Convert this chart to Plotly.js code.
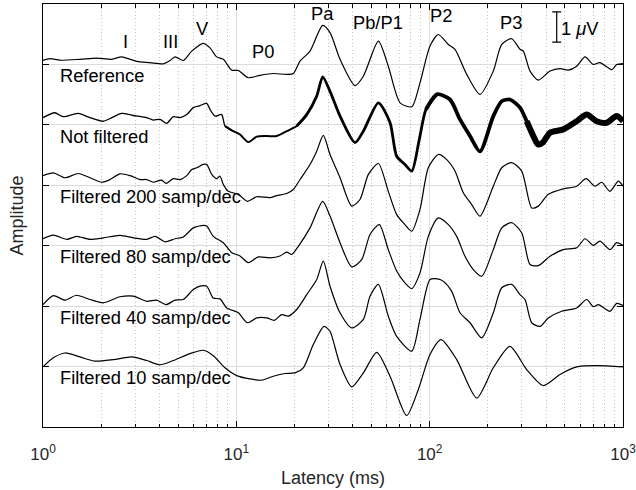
<!DOCTYPE html>
<html><head><meta charset="utf-8">
<script src="https://cdn.plot.ly/plotly-3.0.1.min.js"></script>
<style>html,body{margin:0;padding:0;background:#fff}</style>
</head><body><div id="chart" style="width:636px;height:490px"></div>
<script>
// ---- data (latency in ms, amplitude in microvolts) ----
const traceNames = ['Reference', 'Not filtered', 'Filtered 200 samp/dec', 'Filtered 80 samp/dec', 'Filtered 40 samp/dec', 'Filtered 10 samp/dec'];

const refLat = [1.00,1.087,1.224,1.554,1.896,2.266,2.554,3.053,3.577,4.192,4.538,4.818,5.318,5.877,6.749,7.31,7.915,8.563,9.465,10.24,11.53,13.26,15.53,18.22,19.71,21.35,24.05,27.98,30.52,34.38,41.1,45.4,54.3,61.1,70.3,80.8,89.1,100.4,110.9,124.9,135.2,155.5,182.1,213.3,235.9,265.7,293.3,305.1,330.4,364.8,419.3,472.3,521.4,576.0,636.3,702.3,760.3,874.1,927.8,1000];
const refAmp = [0.13,0.19,0.14,0.17,0.21,0.17,0.25,0.10,0.06,0.02,0.13,0.25,0.13,0.44,0.70,0.55,0.25,0.17,-0.19,-0.20,-0.44,-0.36,-0.30,-0.33,-0.30,0.11,0.44,1.29,1.05,0.17,-0.70,-0.39,0.77,-0.06,-1.27,-1.40,-0.61,0.61,0.99,0.66,0.50,-0.33,-0.99,-0.22,0.66,0.85,0.50,0.44,-0.22,-0.52,-0.22,-0.14,-0.19,-0.06,0.25,0.0,0.06,-0.17,0.0,0.03];

const nfLat = [1.00,1.15,1.27,1.52,1.75,2.05,2.27,2.55,2.93,3.44,3.72,4.03,4.36,4.72,5.11,5.54,5.99,6.49,7.03,7.31,7.76,8.40,8.74,9.65,10.45,11.53,12.75,14.36,16.18,18.22,20.52,23.12,26.05,27.98,30.52,34.38,41.1,45.4,54.3,62.4,67.5,74.5,80.8,88.4,95.7,109.1,127.4,143.5,161.7,182.1,213.4,235.9,260.3,293.3,317.6,343.8,363.5,384.3,419.3,491.2,576.0,649.0,731.2,823.8,927.8,1000];
const nfAmp = [0.24,0.40,0.27,0.38,0.24,0.12,0.24,0.38,0.31,0.24,0.16,0.18,0.05,0.27,0.24,0.34,0.57,0.64,0.71,0.51,0.29,0.34,-0.04,-0.21,-0.32,-0.57,-0.39,-0.37,-0.37,-0.21,-0.04,0.34,0.95,1.59,1.11,0.29,-0.59,-0.21,0.73,0.07,-1.04,-1.31,-1.53,-0.48,0.51,1.01,0.84,0.18,-0.37,-0.88,0.29,0.78,0.84,0.57,0.12,-0.37,-0.65,-0.59,-0.26,-0.15,0.12,0.34,0.12,0.07,0.29,0.12];

const f200Lat = [1.00,1.13,1.30,1.52,1.75,2.01,2.22,2.50,2.82,3.18,3.44,3.72,4.11,4.33,4.72,5.11,5.54,5.88,6.24,6.75,7.03,7.46,7.92,8.23,8.56,9.09,10.24,11.40,12.75,14.93,16.18,18.22,19.71,21.35,24.05,26.05,28.18,30.52,34.38,39.53,43.6,48.2,54.3,61.1,67.5,74.5,80.8,89.1,98.4,110.9,122.5,135.2,149.3,165.0,182.1,213.4,235.9,265.7,299.2,337.2,364.8,410.9,491.2,576.0,643.8,716.6,775.9,856.5,945.7,1000];
const f200Amp = [0.32,0.41,0.25,0.39,0.25,0.10,0.19,0.38,0.32,0.19,0.19,0.10,0.17,0.06,0.22,0.19,0.32,0.52,0.58,0.69,0.69,0.36,0.22,0.30,0.03,-0.20,-0.30,-0.53,-0.38,-0.41,-0.34,-0.27,-0.14,0.19,0.69,1.13,1.65,1.02,0.25,-0.69,-0.47,0.36,0.72,-0.20,-0.97,-1.30,-1.52,-0.80,0.58,1.02,0.85,0.47,-0.25,-0.64,-1.02,-0.03,0.58,0.75,0.47,-0.75,-0.69,-0.30,-0.12,-0.03,0.22,-0.03,0.10,-0.20,0.14,-0.03];

const f80Lat = [1.00,1.13,1.33,1.49,1.75,2.05,2.50,2.93,3.44,3.80,4.28,4.82,5.32,5.99,6.75,7.03,7.60,8.56,9.47,10.45,11.53,12.99,14.93,16.82,18.22,19.34,20.92,24.05,27.98,30.52,34.38,39.53,44.5,49.14,54.9,61.1,67.5,74.5,80.8,89.1,98.4,110.9,124.9,138.0,152.3,168.2,185.9,213.4,235.9,265.7,299.2,330.4,364.8,419.3,491.2,576.0,636.3,702.3,760.3,856.5,927.8,1000];
const f80Amp = [0.23,0.35,0.21,0.31,0.21,0.26,0.34,0.26,0.21,0.31,0.13,0.23,0.29,0.59,0.67,0.65,0.31,0.10,-0.23,-0.34,-0.56,-0.37,-0.40,-0.34,-0.21,-0.29,-0.02,0.59,1.47,0.98,0.10,-0.70,-0.46,0.37,0.70,-0.13,-0.84,-1.23,-1.42,-0.90,0.31,0.92,0.70,0.31,-0.35,-0.79,-1.01,-0.13,0.59,0.76,0.43,-0.62,-0.66,-0.35,-0.13,-0.07,0.23,0.01,0.15,-0.13,0.10,0.01];

const f40Lat = [1.00,1.13,1.30,1.49,1.75,2.05,2.50,2.93,3.44,3.87,4.33,4.82,5.32,5.99,6.49,7.03,7.60,8.23,8.92,10.24,11.40,12.75,14.36,15.72,17.17,18.57,20.52,23.12,26.05,28.18,30.52,34.38,39.53,45.39,49.14,54.27,61.1,67.5,80.8,89.1,100.4,110.0,117.7,130.0,143.5,161.7,185.9,213.4,235.9,265.7,293.3,311.3,337.2,372.2,410.9,481.8,576.0,649.0,702.3,745.3,856.5,927.8,1000];
const f40Amp = [0.05,0.35,0.20,0.36,0.22,0.11,0.31,0.33,0.16,0.20,0.05,0.20,0.22,0.55,0.66,0.66,0.27,0.24,-0.06,-0.22,-0.55,-0.39,-0.39,-0.47,-0.28,-0.33,-0.11,0.38,0.88,1.49,0.66,-0.22,-0.72,-0.44,0.33,0.72,-0.33,-1.00,-1.49,-0.44,0.88,0.90,0.82,0.49,-0.22,-0.55,-1.05,-0.22,0.61,0.72,0.38,0.22,-0.55,-0.67,-0.39,-0.17,-0.06,0.22,-0.02,0.05,-0.17,0.09,0.02];

const f10Lat = [1.00,1.13,1.30,1.55,1.86,2.31,2.88,3.44,4.03,4.72,5.76,6.75,7.60,8.74,10.04,11.77,13.53,15.53,17.85,20.11,22.20,25.01,28.41,30.52,31.75,34.38,39.53,45.39,53.23,62.36,76.06,87.35,100.4,114.5,138.0,175.1,213.4,260.3,317.6,387.0,472.3,576.0,731.2,1000];
const f10Amp = [-0.01,0.29,0.45,0.32,0.18,0.23,0.32,0.20,0.06,0.20,0.43,0.54,0.36,-0.04,-0.30,-0.41,-0.45,-0.32,-0.23,-0.21,-0.04,0.73,1.33,1.17,0.84,0.07,-0.67,-0.21,0.47,-0.32,-1.62,-0.76,0.40,0.89,0.23,-1.04,-0.04,0.67,-0.10,-0.63,-0.26,-0.01,0.03,-0.01];

const peakNames = ['I', 'III', 'V', 'P0', 'Pa', 'Pb/P1', 'P2', 'P3'];
const peakLat = [2.68, 4.54, 6.68, 13.7, 28.0, 54.1, 114.6, 263.6];
const peakHeight = [10.77, 10.77, 11.19, 10.44, 11.69, 11.40, 11.62, 11.38];

const scaleBarLat = 454;      // ms
const scaleBarValue = 1;      // microvolt
const scaleBarCenter = 11.24;

const xTickVals = [1, 10, 100, 1000];
const xTickText = ['10<sup>0</sup>', '10<sup>1</sup>', '10<sup>2</sup>', '10<sup>3</sup>'];

// ---- layout constants ----
const traceOffset = [10, 8, 6, 4, 2, 0];  // vertical stacking (microvolts)
const labelDrop = 0.37;
const labelLat = 1.196;
const FONT = 'Liberation Sans, Arial, sans-serif';

const series = [
  [refLat, refAmp], [nfLat, nfAmp], [f200Lat, f200Amp],
  [f80Lat, f80Amp], [f40Lat, f40Amp], [f10Lat, f10Amp]
];

const traces = [];
series.forEach(([lat, amp], k) => {
  const y = amp.map(v => v + traceOffset[k]);
  if (k === 1) {
    // the unfiltered recording: its noise band widens with latency
    const breaks = [1, 9, 22, 100, 330, 1001];
    const widths = [1.3, 2, 2.8, 3.8, 6];
    for (let s = 0; s < widths.length; s++) {
      const xs = [], ys = [];
      const inS = t => t >= breaks[s] && t < breaks[s + 1];
      for (let i = 0; i < lat.length; i++) {
        if (inS(lat[i]) || (i + 1 < lat.length && inS(lat[i + 1])) || (i > 0 && inS(lat[i - 1]))) {
          xs.push(lat[i]); ys.push(y[i]);
        }
      }
      traces.push({x: xs, y: ys, type: 'scatter', mode: 'lines',
        line: {color: '#000', width: widths[s], shape: 'spline', smoothing: 0.7},
        hoverinfo: 'skip', showlegend: false});
    }
  } else {
    traces.push({x: lat, y: y, type: 'scatter', mode: 'lines',
      line: {color: '#000', width: 1.2, shape: 'spline', smoothing: 0.7},
      hoverinfo: 'skip', showlegend: false});
  }
});

// scale bar (1 microvolt) drawn as an error bar
traces.push({x: [scaleBarLat], y: [scaleBarCenter], type: 'scatter', mode: 'markers',
  marker: {size: 1, color: 'rgba(0,0,0,0)'},
  error_y: {type: 'data', array: [scaleBarValue / 2], symmetric: true, color: '#000', thickness: 1.2, width: 4.5},
  hoverinfo: 'skip', showlegend: false});

const TXT = {family: FONT, size: 18.3, color: '#000'};
const annotations = [];
traceNames.forEach((name, k) => {
  annotations.push({x: Math.log10(labelLat), y: traceOffset[k] - labelDrop, text: name,
    xanchor: 'left', yanchor: 'middle', showarrow: false, font: TXT});
});
peakNames.forEach((name, i) => {
  annotations.push({x: Math.log10(peakLat[i]), y: peakHeight[i], text: name,
    xanchor: 'center', yanchor: 'middle', showarrow: false, font: TXT});
});
annotations.push({x: Math.log10(scaleBarLat * 1.03), y: scaleBarCenter - 0.05, text: '1 <i>μ</i>V',
  xanchor: 'left', yanchor: 'middle', showarrow: false, font: TXT});

const minorVals = [];
[1, 10, 100].forEach(d => { for (let m = 2; m <= 9; m++) minorVals.push(m * d); });

const layout = {
  width: 636, height: 490,
  margin: {l: 43, r: 13, t: 4, b: 63},
  paper_bgcolor: '#fff', plot_bgcolor: '#fff',
  font: {family: FONT, color: '#000'},
  showlegend: false,
  xaxis: {
    type: 'log', range: [0, 3],
    tickmode: 'array', tickvals: xTickVals, ticktext: xTickText,
    ticks: 'inside', ticklen: 6, tickcolor: '#000', tickwidth: 1,
    showline: true, linecolor: '#000', linewidth: 1, mirror: 'ticks',
    showgrid: true, gridcolor: '#dcdcdc', gridwidth: 1,
    tickfont: {family: FONT, size: 17, color: '#262626'},
    ticklabelstandoff: 12, ticklabeloverflow: 'allow',
    minor: {tickmode: 'array', tickvals: minorVals, ticks: 'inside', ticklen: 3.5, tickcolor: '#000',
            showgrid: true, gridcolor: '#c4c4c4', griddash: '1px,2.5px', gridwidth: 1},
    title: {text: 'Latency (ms)', font: {family: FONT, size: 18, color: '#262626'}, standoff: 7},
    zeroline: false
  },
  yaxis: {
    range: [-2, 12], tickmode: 'linear', tick0: -2, dtick: 2,
    showticklabels: false,
    ticks: 'inside', ticklen: 6, tickcolor: '#000',
    showline: true, linecolor: '#000', linewidth: 1, mirror: 'ticks',
    showgrid: true, gridcolor: '#dcdcdc', gridwidth: 1, zeroline: false,
    title: {text: 'Amplitude', font: {family: FONT, size: 18, color: '#262626'}, standoff: 13}
  },
  annotations: annotations
};

Plotly.newPlot('chart', traces, layout, {staticPlot: true, displayModeBar: false});
</script>
</body></html>
